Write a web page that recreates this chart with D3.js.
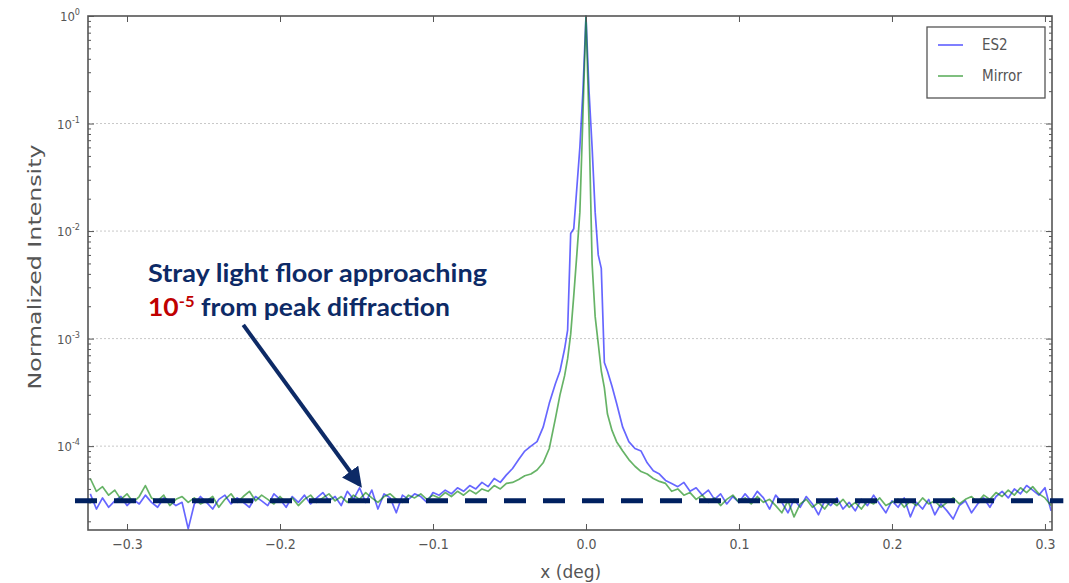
<!DOCTYPE html>
<html>
<head>
<meta charset="utf-8">
<script src="https://cdn.jsdelivr.net/npm/d3@7"></script>
<style>
  body { margin: 0; background: #fff; }
  svg { display: block; }
</style>
</head>
<body>
<div id="chart"></div>
<script>
// sample positions (deg)
const xDeg = [
  -0.324,-0.320,-0.316,-0.312,-0.308,-0.304,-0.300,-0.296,-0.292,-0.288,-0.284,-0.280,-0.276,-0.272,-0.268,-0.264,-0.260,-0.256,-0.252,-0.248,
  -0.244,-0.240,-0.236,-0.232,-0.228,-0.224,-0.220,-0.216,-0.212,-0.208,-0.204,-0.200,-0.196,-0.192,-0.188,-0.184,-0.180,-0.176,-0.172,-0.168,
  -0.164,-0.160,-0.156,-0.152,-0.148,-0.144,-0.140,-0.136,-0.132,-0.128,-0.124,-0.120,-0.116,-0.112,-0.108,-0.104,-0.100,-0.096,-0.092,-0.088,
  -0.084,-0.080,-0.076,-0.072,-0.068,-0.064,-0.060,-0.056,-0.052,-0.048,
  -0.044,-0.040,-0.036,-0.032,-0.028,-0.024,-0.020,-0.017,-0.014,-0.012,-0.010,-0.008,-0.006,-0.004,-0.002,0,
  0.002,0.004,0.006,0.008,0.010,0.012,0.014,0.017,0.020,0.024,0.028,0.032,0.036,0.040,0.044,0.048,
  0.052,0.056,0.060,0.064,0.068,0.072,0.076,0.080,0.084,0.088,0.092,0.096,0.100,0.104,0.108,0.112,0.116,0.120,0.124,0.128,
  0.132,0.136,0.140,0.144,0.148,0.152,0.156,0.160,0.164,0.168,0.172,0.176,0.180,0.184,0.188,0.192,0.196,0.200,0.204,0.208,
  0.212,0.216,0.220,0.224,0.228,0.232,0.236,0.240,0.244,0.248,0.252,0.256,0.260,0.264,0.268,0.272,0.276,0.280,0.284,0.288,
  0.292,0.296,0.300,0.304
];

const es2 = [
  3.6e-5,2.6e-5,3.3e-5,2.7e-5,3.1e-5,3.4e-5,2.8e-5,3.2e-5,2.9e-5,3.5e-5,3.0e-5,2.7e-5,3.3e-5,3.1e-5,2.8e-5,3.0e-5,1.7e-5,2.9e-5,3.4e-5,3.0e-5,
  2.6e-5,3.2e-5,3.5e-5,2.9e-5,3.3e-5,3.0e-5,2.7e-5,3.4e-5,3.1e-5,2.8e-5,3.6e-5,3.2e-5,2.7e-5,3.4e-5,3.0e-5,3.5e-5,2.9e-5,3.3e-5,3.7e-5,3.1e-5,
  3.4e-5,2.8e-5,3.8e-5,3.2e-5,4.1e-5,3.0e-5,3.9e-5,2.6e-5,3.6e-5,3.3e-5,2.4e-5,3.5e-5,3.2e-5,3.6e-5,3.4e-5,3.0e-5,3.7e-5,3.5e-5,3.9e-5,3.6e-5,
  4.1e-5,3.8e-5,4.3e-5,4.0e-5,4.6e-5,4.2e-5,5.0e-5,4.6e-5,5.4e-5,6.2e-5,
  7.5e-5,9.0e-5,1.0e-4,1.1e-4,1.5e-4,2.5e-4,3.8e-4,5.0e-4,8.0e-4,1.2e-3,9.5e-3,1.05e-2,2.5e-2,6.0e-2,2.0e-1,1.0,
  2.0e-1,6.0e-2,1.5e-2,6.0e-3,4.5e-3,6.0e-4,5.0e-4,3.6e-4,2.5e-4,1.5e-4,1.1e-4,9.5e-5,9.0e-5,7.0e-5,5.9e-5,5.5e-5,
  4.8e-5,4.5e-5,4.2e-5,4.6e-5,3.8e-5,4.1e-5,3.5e-5,3.9e-5,3.2e-5,3.6e-5,2.9e-5,3.4e-5,3.0e-5,3.6e-5,3.1e-5,3.8e-5,3.3e-5,2.6e-5,3.5e-5,3.0e-5,
  2.4e-5,3.2e-5,2.7e-5,3.4e-5,2.9e-5,2.3e-5,3.1e-5,2.8e-5,3.3e-5,2.6e-5,3.0e-5,2.5e-5,3.2e-5,2.8e-5,3.5e-5,2.9e-5,2.4e-5,3.1e-5,2.7e-5,3.3e-5,
  2.2e-5,3.0e-5,2.6e-5,3.2e-5,2.3e-5,2.9e-5,2.5e-5,2.1e-5,2.8e-5,3.1e-5,2.4e-5,2.9e-5,3.3e-5,2.7e-5,3.4e-5,3.8e-5,3.3e-5,4.0e-5,3.6e-5,4.3e-5,
  3.9e-5,3.5e-5,4.1e-5,2.5e-5
];

const mirror = [
  5.0e-5,3.8e-5,4.2e-5,3.5e-5,3.9e-5,3.2e-5,3.6e-5,3.0e-5,3.4e-5,4.3e-5,3.3e-5,3.1e-5,3.5e-5,2.8e-5,3.2e-5,3.4e-5,3.0e-5,3.3e-5,2.9e-5,3.1e-5,
  3.4e-5,2.7e-5,3.2e-5,3.6e-5,3.0e-5,3.4e-5,3.8e-5,3.1e-5,3.5e-5,3.2e-5,2.9e-5,3.4e-5,3.0e-5,3.3e-5,2.8e-5,3.2e-5,3.5e-5,3.0e-5,3.3e-5,3.6e-5,
  3.1e-5,3.4e-5,3.0e-5,3.5e-5,3.2e-5,3.7e-5,3.3e-5,3.0e-5,3.4e-5,3.6e-5,3.2e-5,3.0e-5,3.5e-5,3.3e-5,3.6e-5,3.2e-5,3.5e-5,3.3e-5,3.7e-5,3.4e-5,
  3.8e-5,3.5e-5,3.9e-5,3.6e-5,4.0e-5,3.8e-5,4.3e-5,4.0e-5,4.5e-5,4.6e-5,
  4.9e-5,5.3e-5,5.5e-5,6.0e-5,7.0e-5,9.5e-5,1.8e-4,3.0e-4,4.5e-4,6.5e-4,1.1e-3,2.5e-3,6.0e-3,1.5e-2,1.2e-1,1.0,
  1.0e-1,5.0e-3,1.6e-3,9.0e-4,5.0e-4,3.5e-4,2.0e-4,1.4e-4,1.1e-4,9.0e-5,7.5e-5,6.5e-5,5.8e-5,5.5e-5,5.0e-5,4.7e-5,
  4.5e-5,3.8e-5,4.0e-5,3.5e-5,3.7e-5,3.2e-5,3.5e-5,3.0e-5,3.3e-5,2.8e-5,3.2e-5,3.5e-5,3.0e-5,3.3e-5,2.9e-5,3.4e-5,3.0e-5,3.2e-5,2.8e-5,2.4e-5,
  3.1e-5,2.2e-5,2.9e-5,3.2e-5,2.7e-5,3.0e-5,2.6e-5,3.1e-5,2.8e-5,3.2e-5,2.7e-5,3.0e-5,2.6e-5,3.1e-5,2.9e-5,3.3e-5,2.8e-5,3.0e-5,3.2e-5,2.7e-5,
  3.1e-5,2.8e-5,3.3e-5,2.9e-5,3.1e-5,2.7e-5,3.0e-5,3.3e-5,2.9e-5,3.2e-5,3.4e-5,3.0e-5,3.5e-5,3.2e-5,3.7e-5,3.4e-5,3.9e-5,3.5e-5,4.1e-5,3.7e-5,
  4.2e-5,3.6e-5,3.3e-5,2.8e-5
];

const xTicks = [-0.3, -0.2, -0.1, 0.0, 0.1, 0.2, 0.3];
const yTicks = [1, 1e-1, 1e-2, 1e-3, 1e-4];
const yTickExp = ["0", "-1", "-2", "-3", "-4"];
const seriesNames = ["ES2", "Mirror"];
const floorLevel = 3.1e-5;

const W = 1069, H = 583;
const margin = { top: 16, right: 17, bottom: 53, left: 88 };
const innerW = W - margin.left - margin.right;
const innerH = H - margin.top - margin.bottom;

const svg = d3.select("#chart").append("svg")
  .attr("width", W)
  .attr("height", H)
  .attr("viewBox", `0 0 ${W} ${H}`);

const x = d3.scaleLinear().domain([-0.3255, 0.3046]).range([margin.left, margin.left + innerW]);
const y = d3.scaleLog().domain([1.66e-5, 1]).range([margin.top + innerH, margin.top]);

const axisColor = "#555";
const labelColor = "#555";
const tickFont = "'DejaVu Sans Condensed', 'Liberation Sans Narrow', sans-serif";

// grid
svg.append("g")
  .selectAll("line")
  .data(yTicks.slice(1))
  .join("line")
  .attr("x1", margin.left).attr("x2", margin.left + innerW)
  .attr("y1", d => y(d)).attr("y2", d => y(d))
  .attr("stroke", "#c8c8c8")
  .attr("stroke-width", 1)
  .attr("stroke-dasharray", "2,2");

// data lines
svg.append("clipPath").attr("id", "plotclip")
  .append("rect")
  .attr("x", margin.left).attr("y", margin.top - 2)
  .attr("width", innerW).attr("height", innerH + 2);

const line = d3.line()
  .x((d, i) => x(xDeg[i]))
  .y(d => y(d));

const lines = svg.append("g").attr("clip-path", "url(#plotclip)");
lines.append("path")
  .datum(es2)
  .attr("d", line)
  .attr("fill", "none")
  .attr("stroke", "#0000ff")
  .attr("stroke-opacity", 0.6)
  .attr("stroke-width", 1.7)
  .attr("stroke-linejoin", "round");
lines.append("path")
  .datum(mirror)
  .attr("d", line)
  .attr("fill", "none")
  .attr("stroke", "#008000")
  .attr("stroke-opacity", 0.6)
  .attr("stroke-width", 1.7)
  .attr("stroke-linejoin", "round");

// axes: ticks point inward like matplotlib classic
const minorTicks = y.ticks().filter(t => yTicks.indexOf(t) < 0);

svg.append("g")
  .attr("class", "xaxis")
  .attr("transform", `translate(0,${margin.top + innerH})`)
  .call(d3.axisBottom(x).tickValues(xTicks).tickSizeInner(-6).tickSizeOuter(0).tickPadding(9).tickFormat(d3.format(".1f")));

svg.append("g")
  .attr("class", "xaxis-top")
  .attr("transform", `translate(0,${margin.top})`)
  .call(d3.axisTop(x).tickValues(xTicks).tickSizeInner(-6).tickSizeOuter(0).tickFormat(""));

svg.append("g")
  .attr("class", "yaxis")
  .attr("transform", `translate(${margin.left},0)`)
  .call(d3.axisLeft(y).tickValues(yTicks).tickSizeInner(-6).tickSizeOuter(0).tickFormat(""));
svg.append("g")
  .attr("class", "yaxis-minor")
  .attr("transform", `translate(${margin.left},0)`)
  .call(d3.axisLeft(y).tickValues(minorTicks).tickSizeInner(-3).tickSizeOuter(0).tickFormat(""));
svg.append("g")
  .attr("class", "yaxis-right")
  .attr("transform", `translate(${margin.left + innerW},0)`)
  .call(d3.axisRight(y).tickValues(yTicks).tickSizeInner(-6).tickSizeOuter(0).tickFormat(""));
svg.append("g")
  .attr("class", "yaxis-right-minor")
  .attr("transform", `translate(${margin.left + innerW},0)`)
  .call(d3.axisRight(y).tickValues(minorTicks).tickSizeInner(-3).tickSizeOuter(0).tickFormat(""));

svg.selectAll(".domain").remove();
svg.selectAll(".tick line").attr("stroke", axisColor).attr("stroke-width", 1);
svg.selectAll(".xaxis text")
  .attr("fill", labelColor)
  .style("font-family", tickFont)
  .style("font-size", "14px");

// y tick labels with superscript exponents
const yLab = svg.append("g")
  .selectAll("text")
  .data(yTicks)
  .join("text")
  .attr("x", margin.left - 8)
  .attr("y", d => y(d) + 5)
  .attr("text-anchor", "end")
  .attr("fill", labelColor)
  .style("font-family", tickFont)
  .style("font-size", "13px");
yLab.append("tspan").text("10");
yLab.append("tspan")
  .attr("dy", -6)
  .style("font-size", "9px")
  .text((d, i) => yTickExp[i]);

// frame
svg.append("rect")
  .attr("x", margin.left).attr("y", margin.top)
  .attr("width", innerW).attr("height", innerH)
  .attr("fill", "none")
  .attr("stroke", axisColor)
  .attr("stroke-width", 1.6);

// axis titles
svg.append("text")
  .attr("x", x(-0.01))
  .attr("y", 578)
  .attr("text-anchor", "middle")
  .attr("fill", labelColor)
  .style("font-family", "'DejaVu Sans', sans-serif")
  .style("font-size", "17px")
  .text("x (deg)");

svg.append("text")
  .attr("transform", `translate(41,267) rotate(-90)`)
  .attr("text-anchor", "middle")
  .attr("fill", labelColor)
  .attr("textLength", 245)
  .attr("lengthAdjust", "spacingAndGlyphs")
  .style("font-family", "'DejaVu Sans', sans-serif")
  .style("font-size", "17px")
  .text("Normalized Intensity");

// legend
const legend = svg.append("g").attr("transform", "translate(927,27)");
legend.append("rect")
  .attr("width", 118).attr("height", 71)
  .attr("fill", "#fff")
  .attr("stroke", axisColor)
  .attr("stroke-width", 1.3);
const legendColors = ["#0000ff", "#008000"];
const legendRows = legend.selectAll("g.row")
  .data(seriesNames)
  .join("g")
  .attr("class", "row")
  .attr("transform", (d, i) => `translate(0,${18 + i * 31})`);
legendRows.append("line")
  .attr("x1", 11).attr("x2", 36)
  .attr("stroke", (d, i) => legendColors[i])
  .attr("stroke-opacity", 0.5)
  .attr("stroke-width", 2);
legendRows.append("text")
  .attr("x", 55).attr("y", 5)
  .attr("fill", "#555")
  .style("font-family", tickFont)
  .style("font-size", "15px")
  .text(d => d);

// stray light floor annotation
const navy = "#0d2a66";
svg.append("line")
  .attr("x1", x(-0.334)).attr("x2", x(0.312))
  .attr("y1", y(floorLevel)).attr("y2", y(floorLevel))
  .attr("stroke", "#002060")
  .attr("stroke-width", 5)
  .attr("stroke-dasharray", "22,17");

svg.append("defs").append("marker")
  .attr("id", "arrowhead")
  .attr("viewBox", "0 0 10 10")
  .attr("refX", 8).attr("refY", 5)
  .attr("markerWidth", 5).attr("markerHeight", 5)
  .attr("orient", "auto")
  .append("path")
  .attr("d", "M0,0 L10,5 L0,10 z")
  .attr("fill", navy);

svg.append("line")
  .attr("x1", x(-0.224)).attr("y1", y(1.34e-3))
  .attr("x2", x(-0.148)).attr("y2", y(4.4e-5))
  .attr("stroke", navy)
  .attr("stroke-width", 4)
  .attr("marker-end", "url(#arrowhead)");

const note = svg.append("g")
  .style("font-family", "Lato, 'Open Sans', sans-serif")
  .style("font-weight", "bold")
  .style("font-size", "24px");
note.append("text")
  .attr("x", 148).attr("y", 282)
  .attr("fill", navy)
  .attr("textLength", 339)
  .attr("lengthAdjust", "spacingAndGlyphs")
  .text("Stray light floor approaching");
const line2 = note.append("text")
  .attr("x", 148).attr("y", 316)
  .attr("fill", navy)
  .attr("textLength", 302)
  .attr("lengthAdjust", "spacingAndGlyphs");
line2.append("tspan").attr("fill", "#c00000").text("10");
line2.append("tspan").attr("fill", "#c00000").attr("dy", -9).style("font-size", "15px").text("-5");
line2.append("tspan").attr("dy", 9).text(" from peak diffraction");
</script>
</body>
</html>
